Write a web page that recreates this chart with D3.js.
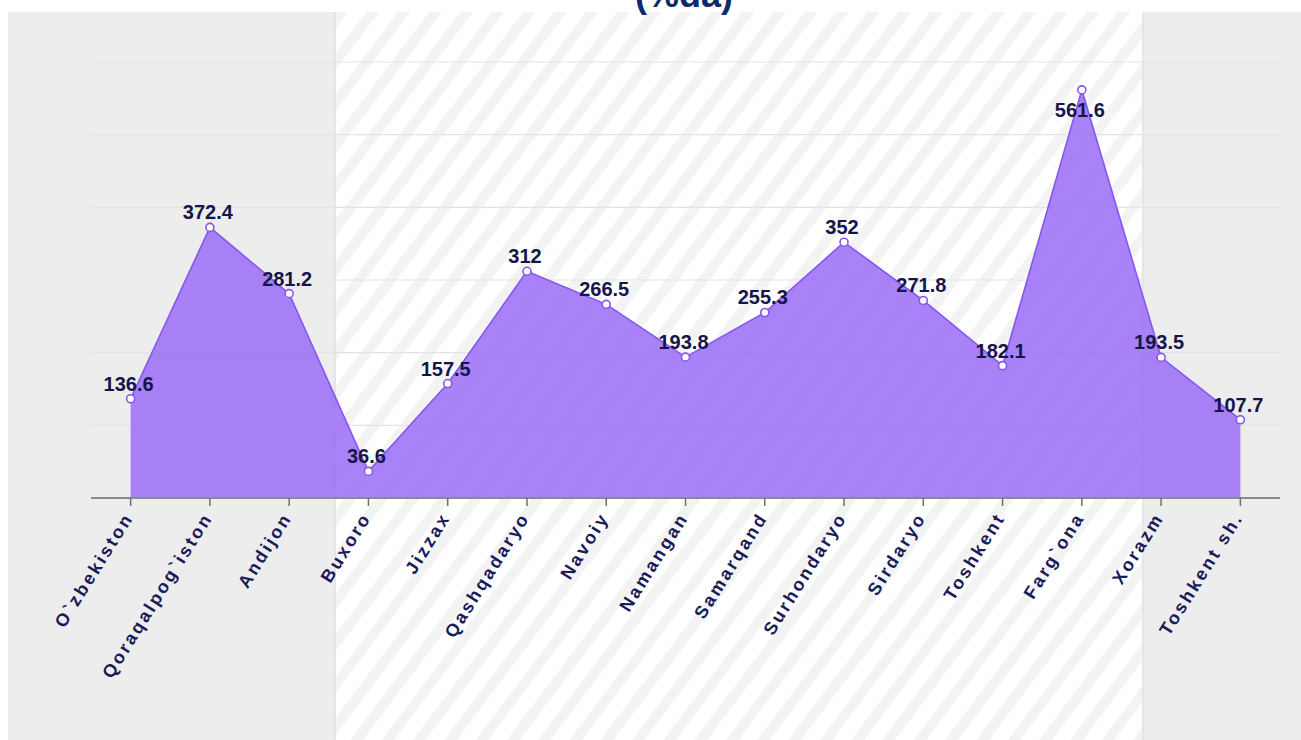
<!DOCTYPE html>
<html>
<head>
<meta charset="utf-8">
<script src="https://cdn.jsdelivr.net/npm/d3@7"></script>
<style>
  html, body { margin: 0; padding: 0; background: #ffffff; }
  svg { display: block; }
</style>
</head>
<body>
<svg id="chart" width="1301" height="740"></svg>
<script>
const categories = ["O`zbekiston", "Qoraqalpog`iston", "Andijon", "Buxoro", "Jizzax", "Qashqadaryo", "Navoiy", "Namangan", "Samarqand", "Surhondaryo", "Sirdaryo", "Toshkent", "Farg`ona", "Xorazm", "Toshkent sh."];
const values = [136.6, 372.4, 281.2, 36.6, 157.5, 312, 266.5, 193.8, 255.3, 352, 271.8, 182.1, 561.6, 193.5, 107.7];
const yTicks = [0, 100, 200, 300, 400, 500, 600];
const titleText = "(%da)";

(function () {
const svg = d3.select("#chart");
const W = 1301, H = 740;
const pLeft = 91, pRight = 1280, pTop = 62, pBottom = 498;

// background
svg.append("rect").attr("x", 8).attr("y", 12).attr("width", W - 8).attr("height", H - 12).attr("fill", "#ededed");

const x = d3.scaleBand().domain(categories).range([pLeft, pRight]).padding(0);
const xc = d => x(d) + x.bandwidth() / 2;
const y = d3.scaleLinear().domain([0, 600]).range([pBottom, pTop]);

// stripes pattern
const defs = svg.append("defs");
const pat = defs.append("pattern").attr("id", "stripes").attr("patternUnits", "userSpaceOnUse")
  .attr("width", 25).attr("height", 25).attr("patternTransform", "rotate(37)");
pat.append("rect").attr("width", 25).attr("height", 25).attr("fill", "#ffffff");
pat.append("rect").attr("width", 10).attr("height", 25).attr("fill", "#f3f3f3");

const step = x.step();
const bandX0 = xc(categories[3]) - 0.42 * step;
const bandX1 = xc(categories[13]) - 0.23 * step;
svg.append("rect").attr("x", bandX0).attr("y", 12).attr("width", bandX1 - bandX0).attr("height", H - 12)
  .attr("fill", "url(#stripes)");
svg.append("line").attr("x1", bandX0).attr("x2", bandX0).attr("y1", 12).attr("y2", H).attr("stroke", "#dedede").attr("stroke-width", 1.2);
svg.append("line").attr("x1", bandX1).attr("x2", bandX1).attr("y1", 12).attr("y2", H).attr("stroke", "#dedede").attr("stroke-width", 1.2);

// gridlines
svg.append("g").selectAll("line").data(yTicks.filter(t => t > 0)).join("line")
  .attr("x1", pLeft).attr("x2", pRight)
  .attr("y1", d => y(d)).attr("y2", d => y(d))
  .attr("stroke", "#e4e4e4").attr("stroke-width", 1.2);

// title (cut off at top, as in the source)
svg.append("text").attr("x", 684).attr("y", 7).attr("text-anchor", "middle")
  .attr("font-family", "Liberation Sans, Arial, sans-serif").attr("font-weight", "bold")
  .attr("font-size", 36).attr("fill", "#0d2a6c").text(titleText);

// area
const area = d3.area().x((d, i) => xc(categories[i])).y0(y(0)).y1(d => y(d));
const line = d3.line().x((d, i) => xc(categories[i])).y(d => y(d));
svg.append("path").datum(values).attr("d", area).attr("fill", "#9b6cf7").attr("fill-opacity", 0.85);
svg.append("path").datum(values).attr("d", line).attr("fill", "none").attr("stroke", "#8457f2").attr("stroke-width", 1.6);

// x axis
const xAxis = d3.axisBottom(x).tickSize(8).tickFormat("");
const gx = svg.append("g").attr("transform", `translate(0,${pBottom})`).call(xAxis);
gx.select(".domain").attr("stroke", "#8a8a8a").attr("stroke-width", 2.2).attr("d", `M${pLeft},0H${pRight}`);
gx.selectAll(".tick line").attr("stroke", "#6e6e6e").attr("stroke-width", 1.5);

// x labels
svg.append("g").selectAll("text").data(categories).join("text")
  .attr("transform", d => `translate(${xc(d) - 2},${pBottom + 16}) rotate(-58)`)
  .attr("text-anchor", "end")
  .attr("dy", "0.35em")
  .attr("font-family", "Liberation Sans, Arial, sans-serif").attr("font-weight", "bold")
  .attr("font-size", 18).attr("letter-spacing", "2.6px")
  .attr("fill", "#1b1b5a").text(d => d);

// markers
svg.append("g").selectAll("circle").data(values).join("circle")
  .attr("cx", (d, i) => xc(categories[i])).attr("cy", d => y(d)).attr("r", 4)
  .attr("fill", "#ffffff").attr("stroke", "#8457f2").attr("stroke-width", 1.6);

// value labels
svg.append("g").selectAll("text").data(values).join("text")
  .attr("x", (d, i) => xc(categories[i]) - 2)
  .attr("y", d => (y(d) - y(600) < 40) ? y(d) + 27 : y(d) - 8)
  .attr("text-anchor", "middle")
  .attr("font-family", "Liberation Sans, Arial, sans-serif").attr("font-weight", "bold")
  .attr("font-size", 20).attr("fill", "#15154a")
  .text(d => d);
})();
</script>
</body>
</html>
